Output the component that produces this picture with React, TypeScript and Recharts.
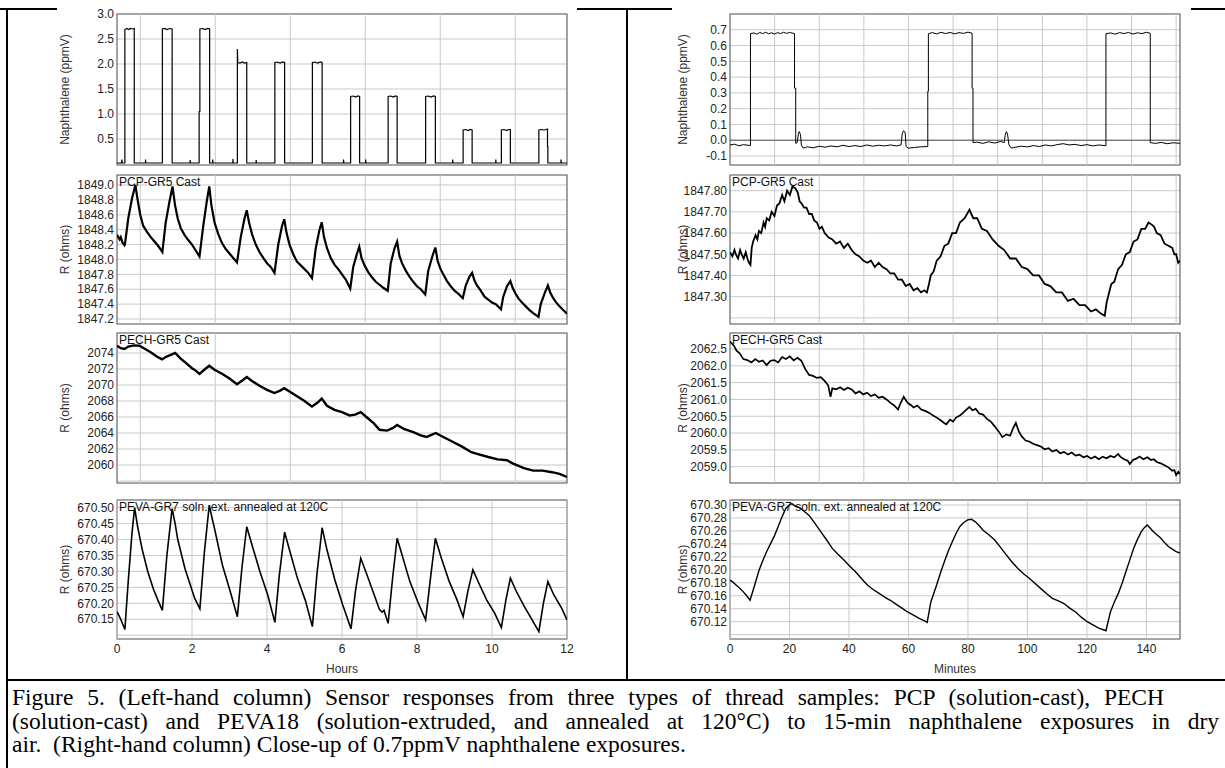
import React from 'react';
import { LineChart, Line, XAxis, YAxis, CartesianGrid, ReferenceLine, ReferenceArea } from 'recharts';

// ---------- axis ticks / grid positions ----------
const hoursTicks = [0, 2, 4, 6, 8, 10, 12];
const hoursGridUpper = [0.62, 2.62, 4.62, 6.62, 8.62, 10.62];
const minuteTicks = [0, 20, 40, 60, 80, 100, 120, 140];
const minuteGridUpper = [15, 30, 45, 60, 75, 90, 105, 120, 135, 150];

const naphLeftTicks = [0.5, 1.0, 1.5, 2.0, 2.5, 3.0];
const pcpLeftTicks = [1847.2, 1847.4, 1847.6, 1847.8, 1848.0, 1848.2, 1848.4, 1848.6, 1848.8, 1849.0];
const pechLeftTicks = [2058, 2060, 2062, 2064, 2066, 2068, 2070, 2072, 2074];
const pevaLeftTicks = [670.1, 670.15, 670.2, 670.25, 670.3, 670.35, 670.4, 670.45, 670.5];
const naphRightTicks = [-0.1, 0.0, 0.1, 0.2, 0.3, 0.4, 0.5, 0.6, 0.7];
const pcpRightTicks = [1847.2, 1847.3, 1847.4, 1847.5, 1847.6, 1847.7, 1847.8];
const pechRightTicks = [2059.0, 2059.5, 2060.0, 2060.5, 2061.0, 2061.5, 2062.0, 2062.5];
const pevaRightTicks = [670.1, 670.12, 670.14, 670.16, 670.18, 670.2, 670.22, 670.24, 670.26, 670.28, 670.3];

// ---------- series (time, value) ----------
// Left column: hours
const naphHours: [number, number][] = [
  [0, 0.02], [0.12, 0.02], [0.13, 0.09], [0.14, 0.02], [0.21, 0.02], [0.21, 2.69], [0.26, 2.71], [0.31, 2.69], [0.36, 2.71], [0.41, 2.7], [0.46, 2.71], [0.46, 0.02],
  [0.76, 0.02], [0.76, 0.09], [0.77, 0.02], [1.21, 0.02], [1.21, 2.7], [1.27, 2.71], [1.33, 2.69], [1.4, 2.71], [1.47, 2.7], [1.47, 0.02],
  [1.95, 0.02], [1.95, 0.08], [1.96, 0.02], [2.19, 0.02], [2.19, 1.05], [2.21, 1.05], [2.21, 2.7], [2.28, 2.71], [2.35, 2.69], [2.42, 2.71], [2.47, 2.7], [2.47, 0.02],
  [2.55, 0.02], [2.55, 0.09], [2.56, 0.02], [3.09, 0.02], [3.09, 0.1], [3.1, 0.02], [3.21, 0.02], [3.21, 2.3], [3.22, 2.03], [3.28, 2.02], [3.34, 2.04], [3.4, 2.02], [3.46, 2.03], [3.46, 0.02],
  [3.71, 0.02], [3.71, 0.08], [3.72, 0.02], [4.21, 0.02], [4.21, 2.03], [4.28, 2.04], [4.35, 2.02], [4.42, 2.04], [4.47, 2.03], [4.47, 0.02],
  [5.21, 0.02], [5.21, 2.03], [5.28, 2.04], [5.35, 2.02], [5.42, 2.04], [5.47, 2.03], [5.47, 0.02],
  [6.04, 0.02], [6.04, 0.09], [6.05, 0.02], [6.23, 0.02], [6.23, 1.35], [6.3, 1.36], [6.37, 1.34], [6.42, 1.36], [6.47, 1.35], [6.47, 0.02],
  [6.63, 0.02], [6.63, 0.09], [6.64, 0.02], [7.23, 0.02], [7.23, 1.35], [7.3, 1.36], [7.37, 1.34], [7.42, 1.36], [7.47, 1.35], [7.47, 0.02],
  [8.23, 0.02], [8.23, 1.35], [8.3, 1.36], [8.37, 1.34], [8.44, 1.36], [8.49, 1.35], [8.49, 0.02],
  [8.95, 0.02], [8.95, 0.09], [8.96, 0.02], [9.23, 0.02], [9.23, 0.68], [9.3, 0.69], [9.37, 0.67], [9.42, 0.69], [9.47, 0.68], [9.47, 0.02],
  [10.1, 0.02], [10.1, 0.09], [10.11, 0.02], [10.25, 0.02], [10.25, 0.68], [10.32, 0.69], [10.39, 0.67], [10.44, 0.69], [10.49, 0.69], [10.49, 0.02],
  [11.25, 0.02], [11.25, 0.68], [11.32, 0.69], [11.39, 0.68], [11.44, 0.69], [11.48, 0.7], [11.48, 0.35], [11.49, 0.35], [11.49, 0.02],
  [11.84, 0.02], [11.84, 0.09], [11.85, 0.02], [12, 0.02],
];

const pcpHours: [number, number][] = [
  [0, 1848.33], [0.07, 1848.27], [0.1, 1848.3], [0.15, 1848.22], [0.2, 1848.19], [0.21, 1848.2], [0.3, 1848.55], [0.4, 1848.82], [0.49, 1849.0], [0.55, 1848.8], [0.62, 1848.6], [0.7, 1848.45], [0.8, 1848.37], [0.9, 1848.3], [1.0, 1848.24], [1.1, 1848.18], [1.21, 1848.1],
  [1.3, 1848.5], [1.4, 1848.78], [1.48, 1848.98], [1.55, 1848.72], [1.62, 1848.55], [1.7, 1848.42], [1.8, 1848.33], [1.9, 1848.26], [2.0, 1848.2], [2.1, 1848.12], [2.2, 1848.04],
  [2.3, 1848.45], [2.4, 1848.8], [2.46, 1848.98], [2.52, 1848.72], [2.6, 1848.5], [2.7, 1848.34], [2.8, 1848.22], [2.9, 1848.14], [3.0, 1848.08], [3.1, 1848.02], [3.2, 1847.96],
  [3.3, 1848.3], [3.4, 1848.55], [3.46, 1848.66], [3.52, 1848.5], [3.6, 1848.34], [3.7, 1848.2], [3.8, 1848.1], [3.9, 1848.02], [4.0, 1847.95], [4.1, 1847.9], [4.2, 1847.82],
  [4.3, 1848.2], [4.4, 1848.45], [4.46, 1848.54], [4.52, 1848.36], [4.6, 1848.2], [4.7, 1848.07], [4.8, 1847.97], [4.9, 1847.92], [5.0, 1847.87], [5.1, 1847.82], [5.2, 1847.75],
  [5.3, 1848.15], [5.4, 1848.4], [5.46, 1848.5], [5.52, 1848.3], [5.6, 1848.15], [5.7, 1848.02], [5.8, 1847.93], [5.9, 1847.87], [6.0, 1847.8], [6.1, 1847.73], [6.22, 1847.61],
  [6.3, 1847.9], [6.4, 1848.08], [6.46, 1848.17], [6.52, 1848.02], [6.6, 1847.92], [6.7, 1847.83], [6.8, 1847.76], [6.9, 1847.7], [7.0, 1847.66], [7.1, 1847.62], [7.22, 1847.58],
  [7.3, 1847.95], [7.4, 1848.15], [7.47, 1848.24], [7.53, 1848.05], [7.6, 1847.95], [7.7, 1847.85], [7.8, 1847.77], [7.9, 1847.7], [8.0, 1847.64], [8.1, 1847.6], [8.22, 1847.53],
  [8.3, 1847.85], [8.42, 1848.06], [8.49, 1848.16], [8.55, 1847.98], [8.62, 1847.88], [8.7, 1847.8], [8.8, 1847.71], [8.9, 1847.64], [9.0, 1847.58], [9.1, 1847.54], [9.22, 1847.48],
  [9.3, 1847.65], [9.4, 1847.77], [9.47, 1847.82], [9.53, 1847.72], [9.6, 1847.65], [9.7, 1847.58], [9.8, 1847.5], [9.9, 1847.46], [10.0, 1847.42], [10.1, 1847.4], [10.24, 1847.33],
  [10.3, 1847.5], [10.4, 1847.64], [10.49, 1847.71], [10.55, 1847.62], [10.62, 1847.55], [10.7, 1847.48], [10.8, 1847.42], [10.9, 1847.37], [11.0, 1847.32], [11.1, 1847.28], [11.24, 1847.23],
  [11.3, 1847.4], [11.4, 1847.54], [11.49, 1847.65], [11.55, 1847.56], [11.62, 1847.49], [11.7, 1847.43], [11.8, 1847.37], [11.9, 1847.32], [12.0, 1847.27],
];

const pechHours: [number, number][] = [
  [0, 2074.9], [0.1, 2074.6], [0.2, 2074.5], [0.3, 2074.8], [0.45, 2074.95], [0.6, 2074.9], [0.75, 2074.5], [0.9, 2074.1], [1.05, 2073.6], [1.2, 2073.2], [1.3, 2073.5], [1.45, 2073.8], [1.55, 2074.0],
  [1.7, 2073.3], [1.85, 2072.7], [2.0, 2072.1], [2.1, 2071.8], [2.2, 2071.4], [2.35, 2072.0], [2.46, 2072.4], [2.6, 2071.9], [2.8, 2071.4], [3.0, 2070.8], [3.2, 2070.1],
  [3.35, 2070.6], [3.46, 2071.0], [3.6, 2070.5], [3.8, 2069.9], [4.0, 2069.4], [4.2, 2069.0], [4.35, 2069.3], [4.46, 2069.6], [4.6, 2069.2], [4.8, 2068.6], [5.0, 2068.0], [5.2, 2067.3],
  [5.35, 2067.8], [5.46, 2068.3], [5.6, 2067.4], [5.8, 2066.9], [6.0, 2066.6], [6.2, 2066.2], [6.35, 2066.3], [6.5, 2066.6], [6.65, 2066.0], [6.85, 2065.2], [7.0, 2064.4], [7.2, 2064.3],
  [7.35, 2064.6], [7.47, 2065.0], [7.65, 2064.5], [7.9, 2064.1], [8.1, 2063.7], [8.25, 2063.5], [8.4, 2063.8], [8.5, 2064.0], [8.7, 2063.5], [8.95, 2062.9], [9.2, 2062.3], [9.45, 2061.6],
  [9.6, 2061.4], [9.9, 2061.0], [10.15, 2060.7], [10.4, 2060.6], [10.55, 2060.2], [10.85, 2059.6], [11.1, 2059.3], [11.35, 2059.3], [11.6, 2059.1], [11.8, 2058.9], [12.0, 2058.5],
];

const pevaHours: [number, number][] = [
  [0, 670.174], [0.1, 670.15], [0.21, 670.118], [0.3, 670.27], [0.4, 670.42], [0.47, 670.5],
  [0.55, 670.44], [0.67, 670.37], [0.82, 670.3], [0.97, 670.245], [1.09, 670.21], [1.21, 670.178], [1.33, 670.35], [1.47, 670.497],
  [1.55, 670.45], [1.62, 670.4], [1.81, 670.31], [2.07, 670.216], [2.21, 670.183], [2.33, 670.36], [2.46, 670.508],
  [2.53, 670.47], [2.6, 670.435], [2.81, 670.32], [3.02, 670.237], [3.21, 670.158], [3.33, 670.31], [3.46, 670.44],
  [3.6, 670.383], [3.81, 670.3], [4.02, 670.226], [4.21, 670.14], [4.33, 670.29], [4.47, 670.423],
  [4.6, 670.367], [4.81, 670.279], [5.02, 670.21], [5.21, 670.127], [5.33, 670.29], [5.47, 670.437],
  [5.6, 670.367], [5.81, 670.273], [6.02, 670.195], [6.24, 670.12], [6.36, 670.24], [6.5, 670.341],
  [6.65, 670.294], [6.86, 670.226], [7.0, 670.18], [7.07, 670.172], [7.12, 670.178], [7.23, 670.137], [7.35, 670.28], [7.47, 670.404],
  [7.6, 670.352], [7.81, 670.268], [8.02, 670.205], [8.23, 670.148], [8.36, 670.28], [8.49, 670.404],
  [8.65, 670.341], [8.86, 670.268], [9.07, 670.21], [9.23, 670.158], [9.36, 670.24], [9.49, 670.305],
  [9.65, 670.263], [9.86, 670.21], [10.07, 670.169], [10.25, 670.124], [10.37, 670.21], [10.49, 670.279],
  [10.65, 670.237], [10.86, 670.19], [11.07, 670.148], [11.25, 670.111], [11.37, 670.2], [11.49, 670.268],
  [11.65, 670.226], [11.86, 670.184], [12.0, 670.148],
];

// Right column: minutes
const naphMinutes: [number, number][] = [
  [0, -0.03], [1.5, -0.025], [3, -0.035], [4.5, -0.028], [6.88, -0.034], [6.88, 0.675], [8, 0.68], [9, 0.672], [10, 0.683], [11, 0.676], [12, 0.684], [13, 0.675], [14, 0.681], [15, 0.673], [16, 0.682], [17, 0.676], [18, 0.684], [19, 0.677], [20, 0.683], [21.7, 0.676],
  [21.7, 0.33], [22.1, 0.33], [22.1, -0.02], [22.6, -0.015], [23.0, 0.04], [23.3, 0.055], [23.7, 0.035], [24.0, -0.03], [24.6, -0.05], [26, -0.042], [28, -0.048], [30, -0.038], [32, -0.044], [34, -0.036], [36, -0.042], [38, -0.032], [40, -0.04], [42, -0.034], [44, -0.04], [46, -0.03], [48, -0.038], [50, -0.032], [52, -0.036], [54, -0.03], [56, -0.036],
  [57.5, -0.03], [57.9, 0.04], [58.3, 0.06], [58.9, 0.05], [59.2, -0.04], [60, -0.05], [62, -0.046], [64, -0.042], [66.5, -0.04], [66.5, 0.31], [66.7, 0.31], [66.7, 0.675], [68, 0.682], [69.5, 0.674], [71, 0.684], [72.5, 0.676], [74, 0.683], [75.5, 0.674], [77, 0.682], [78.5, 0.677], [80, 0.685], [81.4, 0.678],
  [81.4, 0.33], [81.7, 0.33], [81.7, -0.015], [83, -0.012], [85, -0.02], [87, -0.01], [89, -0.018], [91, -0.008], [92.2, -0.015], [92.5, 0.03], [92.9, 0.055], [93.3, 0.04], [93.8, -0.03], [94.6, -0.05], [96, -0.044], [98, -0.038], [100, -0.042], [102, -0.034], [104, -0.04], [106, -0.03], [108, -0.036], [110, -0.028], [112, -0.022], [114, -0.03], [116, -0.026], [118, -0.034], [120, -0.028], [122, -0.036], [124, -0.03],
  [126.4, -0.035], [126.4, 0.675], [128, 0.68], [129.5, 0.672], [131, 0.682], [132.5, 0.676], [134, 0.683], [135.5, 0.673], [137, 0.681], [138.5, 0.676], [140, 0.684], [141.3, 0.678], [141.3, -0.015], [143, -0.02], [145, -0.014], [147, -0.022], [149, -0.016], [151.3, -0.02],
];

const pcpMinutes: [number, number][] = [
  [0, 1847.51], [0.8, 1847.49], [1.5, 1847.52], [1.95, 1847.5], [2.7, 1847.48], [3.4, 1847.52], [3.9, 1847.5], [4.6, 1847.48], [5.3, 1847.51], [5.84, 1847.48], [6.4, 1847.46], [6.88, 1847.45],
  [7.3, 1847.53], [7.79, 1847.56], [8.6, 1847.59], [9.2, 1847.57], [9.74, 1847.61], [10.5, 1847.6], [11.3, 1847.65], [11.8, 1847.63], [12.34, 1847.67], [13.2, 1847.66], [14.0, 1847.7], [14.94, 1847.68], [15.8, 1847.73], [16.6, 1847.74], [17.53, 1847.78], [18.3, 1847.75], [19.2, 1847.8], [20.13, 1847.78], [21.0, 1847.82], [22.08, 1847.81],
  [22.8, 1847.79], [23.4, 1847.75], [24.03, 1847.74], [24.9, 1847.72], [25.7, 1847.72], [26.62, 1847.69], [27.5, 1847.69], [28.3, 1847.66], [29.22, 1847.65], [30.1, 1847.62], [30.9, 1847.63], [31.82, 1847.6], [33.1, 1847.58], [34.4, 1847.57], [35.71, 1847.55], [37.0, 1847.56], [38.3, 1847.53], [39.61, 1847.55], [40.9, 1847.52], [42.2, 1847.5],
  [43.5, 1847.49], [44.8, 1847.47], [46.1, 1847.46], [47.4, 1847.47], [48.7, 1847.44], [50.0, 1847.46], [51.3, 1847.44], [52.6, 1847.43], [53.9, 1847.41], [55.2, 1847.41], [56.5, 1847.38], [57.8, 1847.38], [59.1, 1847.35], [60.4, 1847.36], [61.7, 1847.33], [63.0, 1847.34], [64.2, 1847.32], [65.3, 1847.33], [66.2, 1847.32],
  [66.9, 1847.36], [67.5, 1847.4], [68.5, 1847.42], [69.5, 1847.47], [70.8, 1847.49], [72.1, 1847.54], [73.4, 1847.55], [74.7, 1847.6], [76.0, 1847.6], [77.3, 1847.65], [78.9, 1847.67], [80.5, 1847.71],
  [81.8, 1847.67], [83.1, 1847.67], [84.7, 1847.62], [86.4, 1847.61], [88.3, 1847.57], [90.3, 1847.54], [92.2, 1847.52], [94.2, 1847.48], [96.1, 1847.48], [98.1, 1847.44], [100.0, 1847.43], [101.9, 1847.4], [103.9, 1847.4], [105.8, 1847.36], [107.7, 1847.35], [109.7, 1847.32], [111.6, 1847.32], [113.6, 1847.28], [115.5, 1847.29], [117.5, 1847.26], [119.4, 1847.26], [121.4, 1847.23], [123.0, 1847.24], [124.7, 1847.22], [126.0, 1847.21],
  [126.6, 1847.27], [127.3, 1847.31], [128.2, 1847.36], [129.2, 1847.37], [130.5, 1847.43], [131.8, 1847.45], [133.1, 1847.5], [134.4, 1847.51], [135.7, 1847.56], [137.0, 1847.57], [138.3, 1847.62], [139.6, 1847.62], [140.7, 1847.65], [141.8, 1847.64],
  [142.6, 1847.63], [143.5, 1847.6], [144.8, 1847.59], [146.1, 1847.55], [147.4, 1847.54], [148.7, 1847.53], [149.4, 1847.5], [150.0, 1847.5], [150.7, 1847.46], [151.3, 1847.47],
];

const pechMinutes: [number, number][] = [
  [0, 2062.72], [1.3, 2062.6], [2.2, 2062.45], [3.25, 2062.37], [4.5, 2062.2], [5.84, 2062.17], [7.2, 2062.1], [8.5, 2062.2], [9.74, 2062.12], [11.0, 2062.16], [12.3, 2062.02], [13.6, 2062.15], [14.9, 2062.17], [16.2, 2062.1], [17.5, 2062.26], [18.8, 2062.2], [20.1, 2062.28], [21.4, 2062.16], [22.7, 2062.24], [24.0, 2062.15],
  [25.3, 2061.9], [26.6, 2061.73], [27.9, 2061.7], [29.2, 2061.64], [30.5, 2061.66], [31.8, 2061.55], [33.0, 2061.42], [33.8, 2061.08], [34.4, 2061.33], [35.7, 2061.3], [37.0, 2061.36], [38.3, 2061.28], [39.6, 2061.35], [40.9, 2061.3], [42.2, 2061.18], [43.5, 2061.24], [44.8, 2061.15],
  [46.1, 2061.2], [47.4, 2061.1], [48.7, 2061.15], [50.0, 2061.05], [51.3, 2061.08], [52.6, 2061.0], [54.0, 2060.9], [55.2, 2060.82], [56.5, 2060.7], [57.4, 2060.9], [58.4, 2061.08], [59.7, 2060.9], [61.0, 2060.82], [61.7, 2060.76], [63.0, 2060.82], [64.3, 2060.7], [65.6, 2060.66],
  [67.0, 2060.6], [68.3, 2060.52], [69.5, 2060.46], [70.8, 2060.38], [72.0, 2060.3], [72.7, 2060.26], [74.0, 2060.4], [75.0, 2060.34], [76.0, 2060.46], [77.3, 2060.52], [78.6, 2060.62], [79.5, 2060.7], [80.5, 2060.78], [81.5, 2060.68], [82.6, 2060.72], [83.8, 2060.58],
  [85.1, 2060.55], [86.4, 2060.42], [87.7, 2060.34], [89.0, 2060.2], [90.3, 2060.05], [91.6, 2059.88], [92.9, 2059.96], [94.2, 2059.92], [95.2, 2060.15], [96.1, 2060.3], [97.1, 2060.05], [98.1, 2059.9], [99.4, 2059.78], [100.6, 2059.75], [101.9, 2059.68], [103.2, 2059.64],
  [104.5, 2059.6], [105.8, 2059.52], [107.1, 2059.55], [108.4, 2059.45], [109.7, 2059.5], [111.0, 2059.4], [112.3, 2059.44], [113.6, 2059.36], [114.9, 2059.42], [116.2, 2059.33], [117.5, 2059.36], [118.8, 2059.28], [120.1, 2059.32], [121.4, 2059.24], [122.7, 2059.3],
  [124.0, 2059.22], [125.3, 2059.3], [126.6, 2059.25], [127.9, 2059.32], [129.2, 2059.28], [130.5, 2059.38], [131.2, 2059.3], [132.5, 2059.22], [133.7, 2059.18], [134.4, 2059.08], [135.5, 2059.2], [136.6, 2059.24], [137.7, 2059.3], [139.0, 2059.22], [140.3, 2059.28],
  [141.6, 2059.2], [142.5, 2059.22], [143.5, 2059.14], [144.8, 2059.1], [146.1, 2059.04], [147.4, 2058.98], [148.7, 2058.88], [149.4, 2058.9], [150.0, 2058.75], [150.7, 2058.85], [151.3, 2058.78],
];

const pevaMinutes: [number, number][] = [
  [0, 670.184], [1.0, 670.181], [1.95, 670.177], [3.2, 670.172], [4.5, 670.166], [5.6, 670.16], [6.75, 670.153],
  [8.2, 670.175], [9.74, 670.199], [11.0, 670.214], [12.3, 670.228], [13.6, 670.24], [14.9, 670.252], [16.2, 670.267], [17.5, 670.282], [18.8, 670.295], [20.0, 670.3], [20.8, 670.302],
  [22.0, 670.298], [23.4, 670.296], [25.0, 670.29], [26.6, 670.284], [28.5, 670.272], [30.5, 670.259], [32.5, 670.246], [34.4, 670.233], [36.3, 670.224], [38.3, 670.215], [40.2, 670.206], [42.2, 670.197], [44.1, 670.187], [46.1, 670.177],
  [48.0, 670.17], [50.0, 670.164], [52.0, 670.158], [53.9, 670.153], [55.8, 670.147], [57.8, 670.141], [59.7, 670.135], [61.7, 670.13], [63.6, 670.125], [65.6, 670.121], [66.3, 670.119],
  [67.5, 670.15], [69.5, 670.177], [70.8, 670.196], [72.1, 670.213], [73.4, 670.229], [74.7, 670.243], [76.0, 670.256], [77.3, 670.267], [78.6, 670.273], [79.9, 670.277], [81.2, 670.278], [82.5, 670.274],
  [83.8, 670.268], [85.1, 670.261], [87.0, 670.254], [89.0, 670.246], [90.9, 670.235], [92.9, 670.223], [94.8, 670.212], [96.8, 670.202], [98.7, 670.194], [100.6, 670.187], [102.6, 670.179], [104.5, 670.171],
  [106.5, 670.163], [108.4, 670.156], [110.4, 670.152], [112.3, 670.148], [114.2, 670.141], [116.2, 670.135], [118.1, 670.127], [120.1, 670.12], [122.0, 670.115], [124.0, 670.11], [126.4, 670.106],
  [127.9, 670.135], [129.2, 670.15], [130.6, 670.164], [131.9, 670.18], [133.1, 670.197], [134.4, 670.215], [135.7, 670.233], [137.0, 670.247], [138.3, 670.259], [139.3, 670.265], [140.3, 670.269],
  [141.3, 670.264], [142.3, 670.259], [143.5, 670.254], [144.8, 670.249], [146.1, 670.242], [147.4, 670.236], [148.7, 670.232], [150.0, 670.228], [151.3, 670.226],
];

const toRows = (pairs: [number, number][]) => pairs.map(([t, v]) => ({ t, v }));

const FONT = '"Liberation Sans", Arial, sans-serif';
const GRID = '#c9c9c9';

type PanelProps = {
  x: number; y: number; w: number; h: number; yAxisW: number;
  xDomain: [number, number]; yDomain: [number, number];
  yTicks: number[]; yDigits: number; hideLabels?: number[];
  gridX: number[]; pairs: [number, number][];
  title?: string; yLabel: string; xTicks?: number[]; xLabel?: string;
  strokeWidth: number; zeroLine?: boolean;
};

function Panel(p: PanelProps) {
  const mt = 8;
  const mr = 14;
  const mb = 4;
  const xAxisH = p.xLabel ? 34 : 0;
  const width = p.yAxisW + p.w + mr;
  const height = mt + p.h + xAxisH + mb;
  const fmt = (v: number) =>
    p.hideLabels && p.hideLabels.some((hv) => Math.abs(hv - v) < 1e-6) ? '' : v.toFixed(p.yDigits);
  return (
    <div style={{ position: 'absolute', left: p.x - p.yAxisW, top: p.y - mt }}>
      <LineChart
        width={width}
        height={height}
        data={toRows(p.pairs)}
        margin={{ top: mt, right: mr, bottom: mb, left: 0 }}
      >
        <CartesianGrid vertical={false} stroke={GRID} strokeWidth={1} />
        {p.gridX.map((g) => (
          <ReferenceLine key={'g' + g} x={g} stroke={GRID} strokeWidth={1} />
        ))}
        <XAxis
          dataKey="t"
          type="number"
          domain={p.xDomain}
          allowDataOverflow
          ticks={p.xTicks ?? p.gridX}
          interval={0}
          hide={!p.xLabel}
          height={xAxisH}
          axisLine={false}
          tickLine={false}
          tickSize={0}
          tickMargin={5}
          tick={{ fontSize: 12, fill: '#222', fontFamily: FONT }}
          label={
            p.xLabel
              ? { value: p.xLabel, position: 'insideBottom', offset: 0, fontSize: 12, fill: '#333', fontFamily: FONT }
              : undefined
          }
        />
        <YAxis
          type="number"
          domain={p.yDomain}
          allowDataOverflow
          ticks={p.yTicks}
          interval={0}
          width={p.yAxisW}
          axisLine={false}
          tickLine={false}
          tickSize={0}
          tickMargin={3}
          tickFormatter={fmt}
          tick={{ fontSize: 12, fill: '#222', fontFamily: FONT }}
          label={{ value: p.yLabel, angle: -90, position: 'center', fontSize: 12, fill: '#333', fontFamily: FONT }}
        />
        {p.zeroLine && <ReferenceLine y={0} stroke="#555" strokeWidth={1} />}
        <ReferenceArea
          x1={p.xDomain[0]}
          x2={p.xDomain[1]}
          y1={p.yDomain[0]}
          y2={p.yDomain[1]}
          fill="none"
          fillOpacity={0}
          stroke="#666"
          strokeWidth={1.2}
          label={
            p.title
              ? { value: p.title, position: 'insideTopLeft', offset: 2, fontSize: 12, fill: '#111', fontFamily: FONT }
              : undefined
          }
        />
        <Line
          type="linear"
          dataKey="v"
          stroke="#000"
          strokeWidth={p.strokeWidth}
          dot={false}
          activeDot={false}
          isAnimationActive={false}
        />
      </LineChart>
    </div>
  );
}

const LX = 117; // left plot left edge
const RX = 730; // right plot left edge
const PW = 450;

const captionLine1 = 'Figure 5. (Left-hand column) Sensor responses from three types of thread samples: PCP (solution-cast), PECH';
const captionLine2 = '(solution-cast) and PEVA18 (solution-extruded, and annealed at 120°C) to 15-min naphthalene exposures in dry';
const captionLine3 = 'air.\u00a0 (Right-hand column) Close-up of 0.7ppmV naphthalene exposures.';

export default function App() {
  return (
    <div style={{ position: 'absolute', left: 0, top: 0, width: 1225, height: 768, background: '#fff', overflow: 'hidden', fontFamily: FONT }}>
      <svg width={1225} height={768} style={{ position: 'absolute', left: 0, top: 0 }}>
        <line x1={0} y1={9} x2={57} y2={9} stroke="#000" strokeWidth={2} />
        <line x1={577} y1={9} x2={672} y2={9} stroke="#000" strokeWidth={2} />
        <line x1={1191} y1={9} x2={1225} y2={9} stroke="#000" strokeWidth={2} />
        <line x1={7} y1={8} x2={7} y2={768} stroke="#000" strokeWidth={2} />
        <line x1={627} y1={8} x2={627} y2={680} stroke="#000" strokeWidth={2} />
        <line x1={6} y1={680} x2={1225} y2={680} stroke="#000" strokeWidth={2} />
      </svg>

      {/* Left column (hours) */}
      <Panel x={LX} y={14} w={PW} h={151} yAxisW={104} xDomain={[0, 12]} yDomain={[-0.02, 3.0]}
        yTicks={naphLeftTicks} yDigits={1} gridX={hoursGridUpper} pairs={naphHours}
        yLabel="Naphthalene (ppmV)" strokeWidth={1.2} />
      <Panel x={LX} y={175} w={PW} h={149} yAxisW={104} xDomain={[0, 12]} yDomain={[1847.133, 1849.134]}
        yTicks={pcpLeftTicks} yDigits={1} gridX={hoursGridUpper} pairs={pcpHours}
        title="PCP-GR5 Cast" yLabel="R (ohms)" strokeWidth={2.2} />
      <Panel x={LX} y={333} w={PW} h={150} yAxisW={104} xDomain={[0, 12]} yDomain={[2057.75, 2076.5]}
        yTicks={pechLeftTicks} yDigits={0} hideLabels={[2058]} gridX={hoursGridUpper} pairs={pechHours}
        title="PECH-GR5 Cast" yLabel="R (ohms)" strokeWidth={2.4} />
      <Panel x={LX} y={500} w={PW} h={139} yAxisW={104} xDomain={[0, 12]} yDomain={[670.088, 670.524]}
        yTicks={pevaLeftTicks} yDigits={2} hideLabels={[670.1]} gridX={hoursTicks} xTicks={hoursTicks} xLabel="Hours"
        pairs={pevaHours} title="PEVA-GR7 soln. ext. annealed at 120C" yLabel="R (ohms)" strokeWidth={1.6} />

      {/* Right column (minutes) */}
      <Panel x={RX} y={14} w={PW} h={151} yAxisW={94} xDomain={[0, 151.3]} yDomain={[-0.157, 0.8]}
        yTicks={naphRightTicks} yDigits={1} gridX={minuteGridUpper} pairs={naphMinutes}
        yLabel="Naphthalene (ppmV)" strokeWidth={1} zeroLine />
      <Panel x={RX} y={175} w={PW} h={149} yAxisW={94} xDomain={[0, 151.3]} yDomain={[1847.171, 1847.874]}
        yTicks={pcpRightTicks} yDigits={2} hideLabels={[1847.2]} gridX={minuteGridUpper} pairs={pcpMinutes}
        title="PCP-GR5 Cast" yLabel="R (ohms)" strokeWidth={1.8} />
      <Panel x={RX} y={333} w={PW} h={150} yAxisW={94} xDomain={[0, 151.3]} yDomain={[2058.515, 2062.976]}
        yTicks={pechRightTicks} yDigits={1} gridX={minuteGridUpper} pairs={pechMinutes}
        title="PECH-GR5 Cast" yLabel="R (ohms)" strokeWidth={1.7} />
      <Panel x={RX} y={500} w={PW} h={139} yAxisW={94} xDomain={[0, 151.3]} yDomain={[670.0933, 670.3077]}
        yTicks={pevaRightTicks} yDigits={2} hideLabels={[670.1]} gridX={minuteTicks} xTicks={minuteTicks} xLabel="Minutes"
        pairs={pevaMinutes} title="PEVA-GR7 soln. ext. annealed at 120C" yLabel="R (ohms)" strokeWidth={1.4} />

      {/* Caption */}
      <div style={{ position: 'absolute', left: 12, top: 686, fontFamily: '"Liberation Serif", "Times New Roman", serif', fontSize: 23.5, lineHeight: '23.5px', color: '#000' }}>
        <div style={{ width: 1152, textAlign: 'justify', textAlignLast: 'justify', whiteSpace: 'nowrap' }}>{captionLine1}</div>
        <div style={{ width: 1207, textAlign: 'justify', textAlignLast: 'justify', whiteSpace: 'nowrap' }}>{captionLine2}</div>
        <div style={{ whiteSpace: 'nowrap' }}>{captionLine3}</div>
      </div>
    </div>
  );
}
